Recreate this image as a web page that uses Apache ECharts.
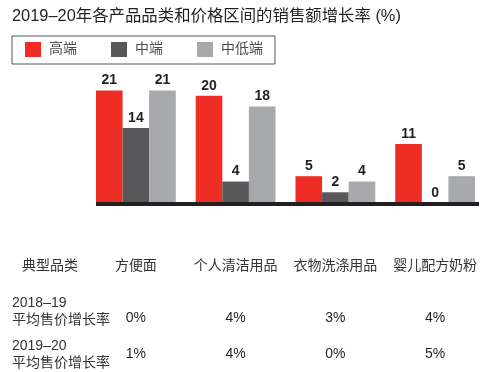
<!DOCTYPE html>
<html>
<head>
<meta charset="utf-8">
<script src="https://cdn.jsdelivr.net/npm/echarts@6/dist/echarts.min.js"></script>
<style>
  html, body { margin: 0; padding: 0; background: #fff; }
  #chart { width: 489px; height: 372px; }
</style>
</head>
<body>
<div id="chart"></div>
<script>
var categories = ['方便面', '个人清洁用品', '衣物洗涤用品', '婴儿配方奶粉']
var seriesNames = ['高端', '中端', '中低端']
var highEnd = [21, 20, 5, 11]
var midEnd = [14, 4, 2, 0]
var lowMidEnd = [21, 18, 4, 5]
var price1819 = [0, 4, 3, 4]
var price1920 = [1, 4, 0, 5]
var colors = ['#EE2D24', '#58585A', '#A7A9AC']

var FONT = '"Liberation Sans", "Noto Sans CJK SC", sans-serif'
var chart = echarts.init(document.getElementById('chart'))

function barSeries(name, data) {
  return {
    name: name,
    type: 'bar',
    data: data,
    barGap: 0,
    barCategoryGap: '20%',
    label: {
      show: true,
      position: 'top',
      distance: 3,
      fontFamily: FONT,
      fontSize: 14,
      fontWeight: 'bold',
      color: '#231F20'
    }
  }
}

function rowAxis(values, offset) {
  return {
    type: 'category',
    data: categories,
    position: 'bottom',
    offset: offset,
    axisLine: { show: false },
    axisTick: { show: false },
    axisLabel: {
      margin: 0,
      fontFamily: FONT,
      fontSize: 14,
      color: '#231F20',
      formatter: function (v, i) { return values[i] + '%' }
    }
  }
}

var rowLabel = {
  fontFamily: FONT,
  fontSize: 14,
  fill: '#333',
  lineHeight: 17
}

var option = {
  animation: false,
  title: {
    text: '2019–20年各产品品类和价格区间的销售额增长率 (%)',
    left: 7,
    top: 3,
    textStyle: { fontFamily: FONT, fontSize: 16.4, fontWeight: 'normal', color: '#231F20' }
  },
  color: colors,
  legend: {
    data: seriesNames,
    left: 12,
    top: 36,
    padding: [6, 12, 7, 13],
    borderColor: '#555',
    borderWidth: 1,
    borderRadius: 0,
    icon: 'rect',
    itemWidth: 16,
    itemHeight: 15,
    itemGap: 34,
    textStyle: { fontFamily: FONT, fontSize: 14, color: '#4a4a4a', padding: [0, 0, 0, 3] }
  },
  grid: { left: 86, right: 4, top: 69, bottom: 169, containLabel: false },
  xAxis: [
    {
      type: 'category',
      data: categories,
      axisLine: { show: false },
      axisTick: { show: false },
      axisLabel: { margin: 56, fontFamily: FONT, fontSize: 14, color: '#333', interval: 0 }
    },
    rowAxis(price1819, 108),
    rowAxis(price1920, 144)
  ],
  yAxis: { type: 'value', min: 0, max: 25, show: false },
  series: [
    barSeries(seriesNames[0], highEnd),
    barSeries(seriesNames[1], midEnd),
    barSeries(seriesNames[2], lowMidEnd)
  ],
  graphic: [
    { type: 'rect', z: 100, shape: { x: 96, y: 202, width: 383, height: 4 }, style: { fill: '#231F20' } },
    { type: 'text', left: 22, top: 258, style: Object.assign({ text: '典型品类' }, rowLabel) },
    { type: 'text', left: 12, top: 295, style: Object.assign({ text: '2018–19\n平均售价增长率' }, rowLabel) },
    { type: 'text', left: 12, top: 338, style: Object.assign({ text: '2019–20\n平均售价增长率' }, rowLabel) }
  ]
}

chart.setOption(option)
</script>
</body>
</html>
